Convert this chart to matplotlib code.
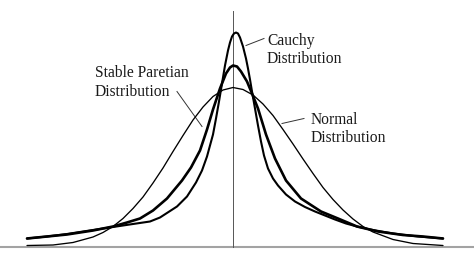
import matplotlib.pyplot as plt

# curves (x in units of 50 px from the centre line, y = height)
normal_x = [-4.12, -3.6, -3.2, -2.8, -2.6, -2.4, -2.2, -2.0, -1.8, -1.6,
            -1.4, -1.2, -1.0, -0.8, -0.6, -0.4, -0.2, 0, 0.2, 0.4,
            0.6, 0.8, 1.0, 1.2, 1.4, 1.6, 1.8, 2.0, 2.2, 2.4,
            2.6, 2.8, 3.2, 3.6, 4.2]
normal_y = [.002, .003, .008, .019, .028, .040, .056, .076, .099, .127,
            .157, .190, .222, .253, .279, .300, .313, .318, .314, .303,
            .285, .262, .234, .205, .175, .146, .118, .094, .073, .055,
            .040, .029, .014, .006, .002]

stable_x = [-4.12, -3.72, -3.32, -2.8, -2.4, -2.12, -1.86, -1.6, -1.32, -1.02,
            -0.84, -0.66, -0.52, -0.4, -0.26, -0.14, -0.06, 0, 0.08, 0.16,
            0.28, 0.38, 0.5, 0.66, 0.84, 1.06, 1.36, 1.76, 2.1, 2.48,
            2.9, 3.4, 3.8, 4.2]
stable_y = [.016, .020, .024, .032, .040, .048, .056, .072, .096, .132,
            .158, .192, .234, .274, .316, .346, .358, .362, .360, .350,
            .330, .306, .276, .224, .176, .132, .096, .070, .056, .040,
            .030, .023, .020, .016]

cauchy_x = [-4.12, -3.72, -3.32, -2.8, -2.4, -2.0, -1.66, -1.46, -1.12, -0.92,
            -0.74, -0.62, -0.52, -0.4, -0.34, -0.28, -0.22, -0.16, -0.1, -0.06,
            -0.02, 0.02, 0.06, 0.1, 0.14, 0.2, 0.26, 0.3, 0.34, 0.38,
            0.44, 0.5, 0.56, 0.62, 0.7, 0.8, 0.9, 1.06, 1.24, 1.44,
            1.64, 1.84, 2.04, 2.26, 2.48, 2.8, 3.2, 3.7, 4.2]
cauchy_y = [.016, .020, .025, .033, .039, .045, .050, .058, .080, .100,
            .128, .152, .180, .224, .256, .290, .326, .362, .392, .408,
            .420, .426, .428, .426, .418, .400, .376, .356, .334, .310,
            .276, .242, .210, .182, .156, .136, .122, .104, .090, .079,
            .070, .062, .054, .046, .040, .033, .026, .020, .016]

labels = {
    "cauchy": ["Cauchy", "Distribution"],
    "stable": ["Stable Paretian", "Distribution"],
    "normal": ["Normal", "Distribution"],
}

plt.rcParams['font.family'] = ['Liberation Serif', 'DejaVu Serif']

fig = plt.figure(figsize=(4.74, 2.55), dpi=100)
ax = fig.add_axes([0, 0, 1, 1])
ax.set_xlim(-4.66, 4.82)
ax.set_ylim(-0.015, 0.495)
ax.axis('off')

# axes
ax.axhline(0, color='#a3a3a3', lw=1.5, zorder=1)
ax.plot([0, 0], [0, 0.472], color='#555555', lw=0.7, zorder=1)

kw = dict(solid_joinstyle='round', solid_capstyle='round', color='black', zorder=3)
ax.plot(normal_x, normal_y, lw=0.95, **kw)
ax.plot(stable_x, stable_y, lw=1.9, **kw)
ax.plot(cauchy_x, cauchy_y, lw=1.5, **kw)

# labels with leader lines
tcol = '#1a1a1a'
fs = 11.2
ax.text(0.68, 0.404, labels["cauchy"][0], fontsize=fs, color=tcol, va='baseline')
ax.text(0.68, 0.369, labels["cauchy"][1], fontsize=fs, color=tcol, va='baseline')
ax.plot([0.26, 0.62], [0.402, 0.416], color='#333333', lw=0.7)

ax.text(-2.76, 0.340, labels["stable"][0], fontsize=fs, color=tcol, va='baseline')
ax.text(-2.76, 0.302, labels["stable"][1], fontsize=fs, color=tcol, va='baseline')
ax.plot([-1.12, -0.62], [0.310, 0.240], color='#333333', lw=0.7)

ax.text(1.56, 0.246, labels["normal"][0], fontsize=fs, color=tcol, va='baseline')
ax.text(1.56, 0.210, labels["normal"][1], fontsize=fs, color=tcol, va='baseline')
ax.plot([0.98, 1.42], [0.246, 0.256], color='#333333', lw=0.7)

fig.savefig("out.png", dpi=100)
